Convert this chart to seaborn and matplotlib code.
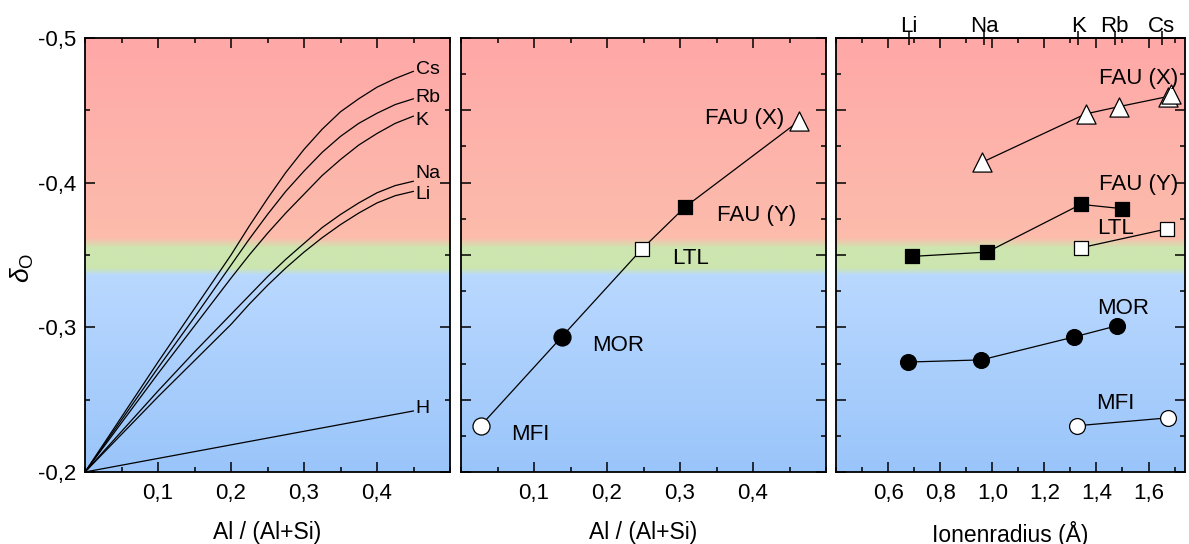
import numpy as np
import pandas as pd
import seaborn as sns
import matplotlib.pyplot as plt
from matplotlib.ticker import MultipleLocator, NullLocator

# left panel: delta_O vs Al/(Al+Si)
al_frac = [0.0, 0.05, 0.1, 0.15, 0.2, 0.225, 0.25, 0.275, 0.3, 0.325, 0.35, 0.375, 0.4, 0.425, 0.45]
delta_cs = [-0.2, -0.238, -0.276, -0.313, -0.350, -0.370, -0.389, -0.407, -0.423, -0.437, -0.449, -0.458, -0.466, -0.472, -0.477]
delta_rb = [-0.2, -0.236, -0.272, -0.307, -0.343, -0.361, -0.378, -0.394, -0.408, -0.421, -0.432, -0.441, -0.448, -0.454, -0.458]
delta_k = [-0.2, -0.234, -0.268, -0.301, -0.334, -0.350, -0.365, -0.379, -0.392, -0.405, -0.416, -0.426, -0.434, -0.441, -0.446]
delta_na = [-0.2, -0.228, -0.256, -0.283, -0.309, -0.322, -0.335, -0.347, -0.358, -0.369, -0.378, -0.386, -0.393, -0.398, -0.401]
delta_li = [-0.2, -0.226, -0.252, -0.277, -0.302, -0.316, -0.329, -0.341, -0.352, -0.362, -0.371, -0.379, -0.386, -0.391, -0.394]
h_frac = [0.0, 0.45]
delta_h = [-0.2, -0.2422]
curve_names = ['Cs', 'Rb', 'K', 'Na', 'Li']
curve_label_y = [-0.478, -0.459, -0.443, -0.406, -0.392]

# middle panel: zeolite frameworks
zeo_names = ['MFI', 'MOR', 'LTL', 'FAU (Y)', 'FAU (X)']
zeo_al = [0.027, 0.138, 0.248, 0.307, 0.463]
zeo_delta = [-0.232, -0.2934, -0.3542, -0.3832, -0.4426]

# right panel: delta_O vs ionic radius
ion_names = ['Li', 'Na', 'K', 'Rb', 'Cs']
ion_radius = [0.68, 0.97, 1.33, 1.47, 1.65]
faux_r = [0.96, 1.358, 1.485, 1.673, 1.685]
faux_d = [-0.414, -0.4475, -0.4525, -0.4595, -0.4615]
fauy_r = [0.69, 0.98, 1.34, 1.50]
fauy_d = [-0.349, -0.352, -0.385, -0.382]
ltl_r = [1.34, 1.67]
ltl_d = [-0.355, -0.368]
mor_r = [0.677, 0.958, 1.315, 1.477]
mor_d = [-0.276, -0.2775, -0.2934, -0.301]
mfi_r = [1.327, 1.673]
mfi_d = [-0.232, -0.2374]

# background colour bands (delta_O stops)
bg_stops = [-0.5, -0.362, -0.355, -0.341, -0.336, -0.2]
bg_rgb = [(255, 168, 168), (252, 188, 172), (205, 230, 176),
          (205, 230, 176), (185, 216, 255), (154, 197, 250)]

sns.set_theme(style='ticks')
plt.rcParams['font.family'] = ['Liberation Sans', 'DejaVu Sans']
plt.rcParams['mathtext.fontset'] = 'custom'
plt.rcParams['mathtext.rm'] = 'Liberation Sans'
plt.rcParams['mathtext.it'] = 'Liberation Sans:italic'
plt.rcParams.update({'text.color': 'black', 'axes.labelcolor': 'black',
                     'xtick.color': 'black', 'ytick.color': 'black'})

fig = plt.figure(figsize=(11.89, 5.44), dpi=100)
W, H = 1189, 544
bot = (544 - 472) / H
hgt = 434 / H
ax1 = fig.add_axes([85 / W, bot, 365 / W, hgt])
ax2 = fig.add_axes([461 / W, bot, 365 / W, hgt])
ax3 = fig.add_axes([836 / W, bot, 349 / W, hgt])


def paint_bg(ax, x0, x1):
    yy = np.linspace(-0.5, -0.2, 600)
    rgb = np.stack([np.interp(yy, bg_stops, [c[i] for c in bg_rgb]) for i in range(3)], axis=-1) / 255
    ax.imshow(rgb[:, None, :], extent=(x0, x1, -0.2, -0.5), aspect='auto',
              origin='upper', zorder=0, interpolation='bilinear')
    ax.set_xlim(x0, x1)
    ax.set_ylim(-0.2, -0.5)


def style_ticks(ax):
    ax.tick_params(which='both', direction='in', top=True, right=True, width=1.1, colors='black')
    ax.tick_params(which='major', length=7, labelsize=16, pad=8)
    ax.tick_params(which='minor', length=3.5)
    for s in ax.spines.values():
        s.set_linewidth(1.3)
        s.set_color('black')
        s.set_zorder(5)


lw = 0.9

# ---- left panel
paint_bg(ax1, 0, 0.5)
curves = [delta_cs, delta_rb, delta_k, delta_na, delta_li]
for name, d, ly in zip(curve_names, curves, curve_label_y):
    sns.lineplot(x=al_frac, y=d, ax=ax1, color='black', lw=lw, sort=False, estimator=None)
    ax1.text(0.453, ly, name, fontsize=14, ha='left', va='center')
sns.lineplot(x=h_frac, y=delta_h, ax=ax1, color='black', lw=lw, sort=False, estimator=None)
ax1.text(0.453, -0.2442, 'H', fontsize=14, ha='left', va='center')
ax1.set_xlim(0, 0.5)
ax1.set_ylim(-0.2, -0.5)
ax1.set_xticks([0.1, 0.2, 0.3, 0.4], labels=['0,1', '0,2', '0,3', '0,4'])
ax1.xaxis.set_minor_locator(MultipleLocator(0.05))
ax1.set_yticks([-0.5, -0.4, -0.3, -0.2], labels=['-0,5', '-0,4', '-0,3', '-0,2'])
ax1.yaxis.set_minor_locator(MultipleLocator(0.05))
style_ticks(ax1)
ax1.tick_params(axis='y', pad=6)
ax1.set_xlabel('Al / (Al+Si)', fontsize=16.5, labelpad=12)
ax1.set_ylabel(r'$\delta_\mathrm{O}$', fontsize=19)
ax1.yaxis.set_label_coords(-0.135, 0.47)

# ---- middle panel
paint_bg(ax2, 0, 0.5)
sns.lineplot(x=zeo_al, y=zeo_delta, ax=ax2, color='black', lw=lw, sort=False, estimator=None, zorder=2)
zeo_marker = ['o', 'o', 's', 's', '^']
zeo_face = ['white', 'black', 'white', 'black', 'white']
zeo_size = [150, 150, 110, 110, 190]
for xv, yv, m, fc, sz in zip(zeo_al, zeo_delta, zeo_marker, zeo_face, zeo_size):
    sns.scatterplot(x=[xv], y=[yv], ax=ax2, marker=m, color=fc, edgecolor='black',
                    linewidth=0.9, s=sz, zorder=3)
zeo_label_pos = [(0.0945, -0.2261), (0.2155, -0.2873), (0.315, -0.3478), (0.405, -0.3772), (0.389, -0.4447)]
for name, (tx, ty) in zip(zeo_names, zeo_label_pos):
    ax2.text(tx, ty, name, fontsize=16, ha='center', va='center')
ax2.set_xlim(0, 0.5)
ax2.set_ylim(-0.2, -0.5)
ax2.set_xticks([0.1, 0.2, 0.3, 0.4], labels=['0,1', '0,2', '0,3', '0,4'])
ax2.xaxis.set_minor_locator(MultipleLocator(0.05))
ax2.yaxis.set_major_locator(MultipleLocator(0.05))
ax2.yaxis.set_minor_locator(MultipleLocator(0.025))
ax2.set_yticklabels([])
style_ticks(ax2)
ax2.set_xlabel('Al / (Al+Si)', fontsize=16.5, labelpad=12)
ax2.set_ylabel('')

# ---- right panel
paint_bg(ax3, 0.4, 1.74)
series = [
    (faux_r, faux_d, '^', 'white', 190),
    (fauy_r, fauy_d, 's', 'black', 110),
    (ltl_r, ltl_d, 's', 'white', 110),
    (mor_r, mor_d, 'o', 'black', 130),
    (mfi_r, mfi_d, 'o', 'white', 130),
]
for xs, ys, m, fc, sz in series:
    sns.lineplot(x=xs, y=ys, ax=ax3, color='black', lw=lw, sort=False, estimator=None, zorder=2)
    sns.scatterplot(x=xs, y=ys, ax=ax3, marker=m, color=fc, edgecolor='black',
                    linewidth=0.9, s=sz, zorder=3)
right_labels = [('FAU (X)', 1.563, -0.4721), ('FAU (Y)', 1.563, -0.3984), ('LTL', 1.473, -0.3685),
                ('MOR', 1.501, -0.3132), ('MFI', 1.473, -0.2476)]
for name, tx, ty in right_labels:
    ax3.text(tx, ty, name, fontsize=16, ha='center', va='center')
ax3.set_xlim(0.4, 1.74)
ax3.set_ylim(-0.2, -0.5)
ax3.set_xticks([0.6, 0.8, 1.0, 1.2, 1.4, 1.6], labels=['0,6', '0,8', '1,0', '1,2', '1,4', '1,6'])
ax3.xaxis.set_minor_locator(MultipleLocator(0.1))
ax3.yaxis.set_major_locator(MultipleLocator(0.05))
ax3.yaxis.set_minor_locator(MultipleLocator(0.025))
ax3.set_yticklabels([])
style_ticks(ax3)
ax3.set_xlabel('Ionenradius (Å)', fontsize=16.5, labelpad=12)
ax3.set_ylabel('')
sec = ax3.secondary_xaxis('top')
sec.set_xticks(ion_radius, labels=ion_names)
sec.xaxis.set_minor_locator(NullLocator())
sec.tick_params(direction='inout', length=10, width=1.1, pad=-4, labelsize=16, colors='black')
sec.spines['top'].set_linewidth(1.3)

fig.savefig('out.png', dpi=100)
